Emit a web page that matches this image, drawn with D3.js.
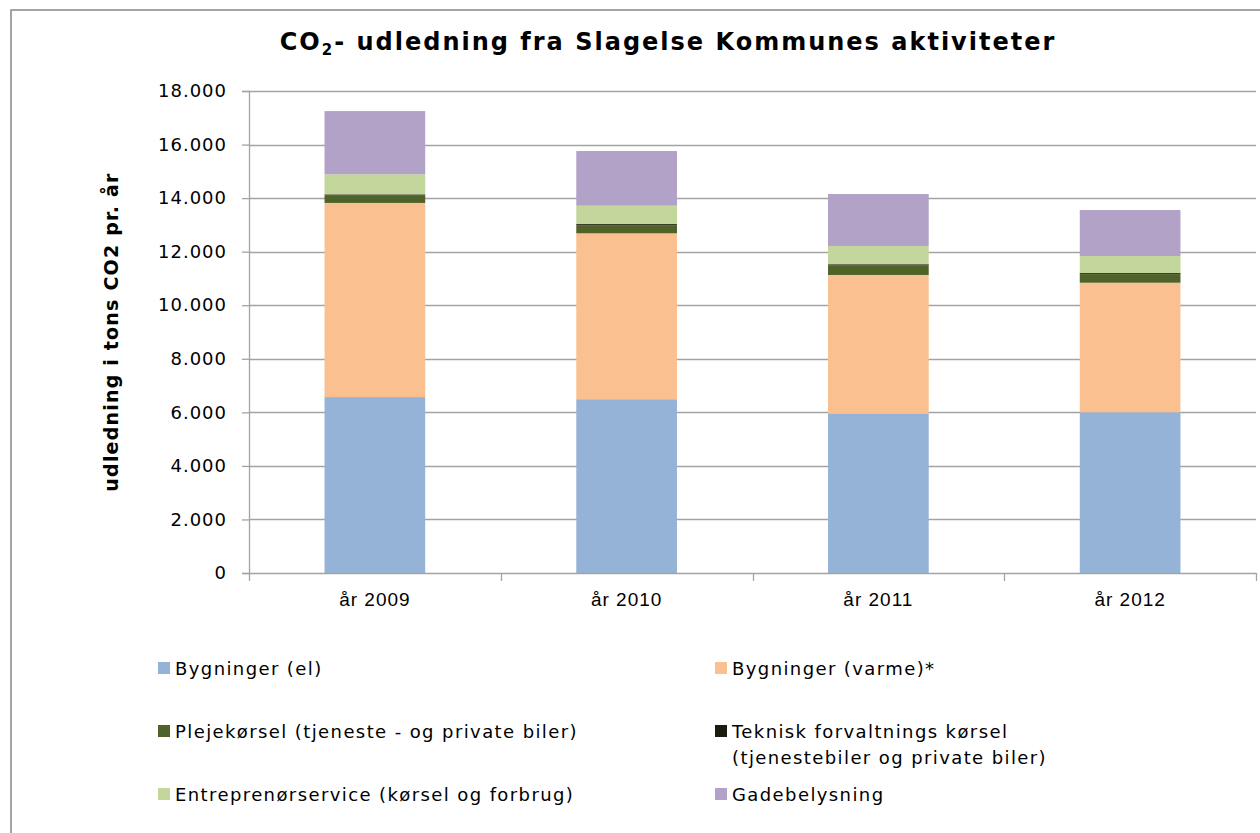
<!DOCTYPE html>
<html><head><meta charset="utf-8">
<script src="https://cdn.jsdelivr.net/npm/d3@7"></script>
<style>
body{margin:0;background:#fff;}
svg{display:block;font-family:"DejaVu Sans",Verdana,sans-serif;}
</style></head>
<body><svg id="c" width="1260" height="833"></svg>
<script>
const categories = ["år 2009", "år 2010", "år 2011", "år 2012"];
const seriesNames = ["Bygninger (el)", "Bygninger (varme)*", "Plejekørsel (tjeneste - og private biler)", "Teknisk forvaltnings kørsel (tjenestebiler og private biler)", "Entreprenørservice (kørsel og forbrug)", "Gadebelysning"];
const bygningerEl = [6570, 6490, 5960, 6000];
const bygningerVarme = [7250, 6195, 5170, 4840];
const plejekorsel = [290, 295, 360, 320];
const tekniskKorsel = [30, 50, 40, 40];
const entreprenor = [750, 686, 683, 638];
const gadebelysning = [2360, 2042, 1941, 1718];
const yTicks = [0, 2000, 4000, 6000, 8000, 10000, 12000, 14000, 16000, 18000];
const colors = ["#95b3d7", "#fac090", "#4f6228", "#1d1b10", "#c3d69b", "#b3a2c7"];

const seriesValues = [bygningerEl, bygningerVarme, plejekorsel, tekniskKorsel, entreprenor, gadebelysning];
const keys = seriesNames.map((d, i) => "s" + i);
const table = categories.map((c, j) => {
  const row = {cat: c};
  keys.forEach((k, i) => row[k] = seriesValues[i][j]);
  return row;
});

const svg = d3.select("#c");
const pLeft = 249, pRight = 1256, pTop = 91, pBottom = 573;
const x = d3.scaleBand().domain(categories).range([pLeft, pRight]).paddingInner(0.6).paddingOuter(0.3);
const y = d3.scaleLinear().domain([0, 18000]).range([pBottom, pTop]);
const loc = d3.formatLocale({decimal: ",", thousands: ".", grouping: [3], currency: ["", ""]});
const fmt = loc.format(",.0f");
const gridCol = "#a3a3a3";

// outer border
svg.append("rect").attr("x", 11).attr("y", 10).attr("width", 1300).attr("height", 900)
  .attr("fill", "none").attr("stroke", "#878787").attr("stroke-width", 1.5);

// title
const title = svg.append("text").attr("x", 668).attr("y", 50).attr("text-anchor", "middle")
  .attr("font-size", 24).attr("font-weight", "bold").attr("fill", "#000").style("letter-spacing", "2px");
title.append("tspan").text("CO");
title.append("tspan").attr("font-size", 15).attr("dy", 5).text("2");
title.append("tspan").attr("dy", -5).text("- udledning fra Slagelse Kommunes aktiviteter");

// gridlines
svg.append("g").selectAll("line").data(yTicks.filter(d => d > 0)).join("line")
  .attr("x1", pLeft).attr("x2", pRight).attr("y1", d => Math.round(y(d)) + 0.5).attr("y2", d => Math.round(y(d)) + 0.5)
  .attr("stroke", gridCol).attr("stroke-width", 1.3);

// y axis
const yAxis = svg.append("g").attr("transform", `translate(${pLeft},0)`)
  .call(d3.axisLeft(y).tickValues(yTicks).tickFormat(d => fmt(d)).tickSize(7).tickPadding(15));
yAxis.selectAll("path,line").attr("stroke", gridCol).attr("stroke-width", 1.3);
yAxis.selectAll("text").attr("font-size", 18).attr("fill", "#000").style("letter-spacing", "1px")
  .attr("font-family", "DejaVu Sans, sans-serif");

// bars
const stack = d3.stack().keys(keys)(table);
svg.append("g").selectAll("g").data(stack).join("g").attr("fill", (d, i) => colors[i])
  .selectAll("rect").data(d => d).join("rect")
  .attr("x", d => x(d.data.cat)).attr("width", x.bandwidth())
  .attr("y", d => y(d[1])).attr("height", d => y(d[0]) - y(d[1]));

// x axis
const xAxis = svg.append("g").attr("transform", `translate(0,${pBottom})`)
  .call(d3.axisBottom(x).tickSize(0).tickPadding(20));
xAxis.select("path").attr("stroke", gridCol).attr("stroke-width", 1.3).attr("d", `M${pLeft},0.5H${pRight}`);
xAxis.selectAll("text").attr("font-size", 19).attr("fill", "#000").style("letter-spacing", "1px");
// category boundary ticks
const tickPos = [pLeft].concat(categories.map(c => x(c) + x.bandwidth() + (x.step() - x.bandwidth()) / 2));
svg.append("g").selectAll("line").data(tickPos).join("line")
  .attr("x1", d => Math.round(d) + 0.5).attr("x2", d => Math.round(d) + 0.5)
  .attr("y1", pBottom).attr("y2", pBottom + 8).attr("stroke", gridCol).attr("stroke-width", 1.3);

// y title
svg.append("text").attr("transform", "translate(118,332) rotate(-90)").attr("text-anchor", "middle")
  .attr("font-size", 19).attr("font-weight", "bold").attr("fill", "#000").style("letter-spacing", "1.2px")
  .text("udledning i tons CO2 pr. år");

// legend
const legendPos = [
  {x: 158, y: 662, lines: [seriesNames[0]]},
  {x: 715, y: 662, lines: [seriesNames[1]]},
  {x: 158, y: 725, lines: [seriesNames[2]]},
  {x: 715, y: 725, lines: ["Teknisk forvaltnings kørsel", "(tjenestebiler og private biler)"]},
  {x: 158, y: 788, lines: [seriesNames[4]]},
  {x: 715, y: 788, lines: [seriesNames[5]]}
];
const lg = svg.append("g").selectAll("g").data(legendPos).join("g")
  .attr("transform", d => `translate(${d.x},${d.y})`);
lg.append("rect").attr("width", 12).attr("height", 12).attr("fill", (d, i) => colors[i]);
lg.append("text").attr("x", 17).attr("y", 12.5).attr("font-size", 18).attr("fill", "#000")
  .style("letter-spacing", "1.4px")
  .selectAll("tspan").data(d => d.lines).join("tspan")
  .attr("x", 17).attr("dy", (d, i) => i === 0 ? 0 : 26).text(d => d);
</script></body></html>
